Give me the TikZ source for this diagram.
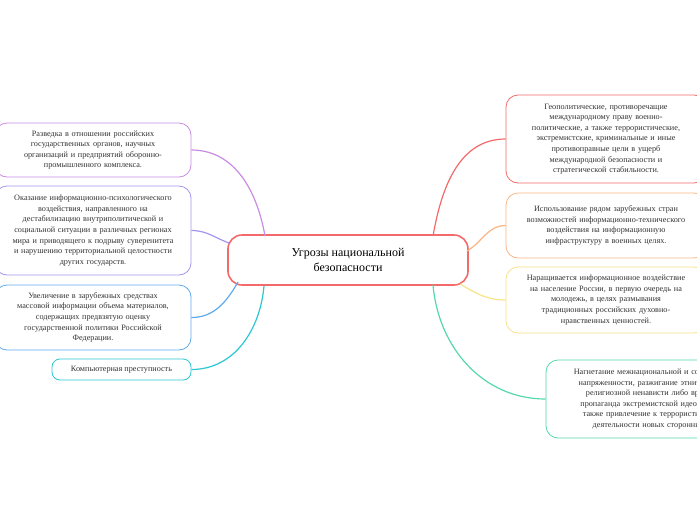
\documentclass[tikz,border=0pt]{standalone}
\usepackage{fontspec}
\setmainfont{Liberation Serif}
\begin{document}
\begin{tikzpicture}[x=1pt,y=-1pt,
  box/.style={draw, line width=0.8pt, rounded corners=12pt, align=center, inner sep=2pt, font=\fontsize{8.2}{10.6}\selectfont, text=black!80},
  link/.style={line width=1.2pt}]
\useasboundingbox (0,0) rectangle (697,520);
\clip (0,0) rectangle (697,520);
\definecolor{cpur}{HTML}{C98BE3}\definecolor{cvio}{HTML}{A394F2}\definecolor{cblu}{HTML}{5EAAEE}
\definecolor{ctea}{HTML}{2BC7D2}\definecolor{cred}{HTML}{F36A6A}\definecolor{cora}{HTML}{F9B585}
\definecolor{cyel}{HTML}{F7E487}\definecolor{cgrn}{HTML}{55D8AB}
\node[draw=cred, line width=1.6pt, rounded corners=14pt, minimum width=240pt, minimum height=50pt, align=center, font=\fontsize{12}{15}\selectfont] (c) at (348,260) {Угрозы национальной\\безопасности};
\node[box, draw=cpur, minimum width=196pt, minimum height=54pt, text width=192pt] (l1) at (93,150) {Разведка в отношении российских\\государственных органов, научных\\организаций и предприятий оборонно-\\промышленного комплекса.};
\node[box, draw=cvio, minimum width=196pt, minimum height=89pt, text width=192pt] (l2) at (93,230.5) {Оказание информационно-психологического\\воздействия, направленного на\\дестабилизацию внутриполитической и\\социальной ситуации в различных регионах\\мира и приводящего к подрыву суверенитета\\и нарушению территориальной целостности\\других государств.};
\node[box, draw=cblu, minimum width=196pt, minimum height=65pt, text width=192pt] (l3) at (93,317.5) {Увеличение в зарубежных средствах\\массовой информации объема материалов,\\содержащих предвзятую оценку\\государственной политики Российской\\Федерации.};
\node[box, draw=ctea, rounded corners=8pt, minimum width=139pt, minimum height=21pt] (l4) at (121.5,369.5) {Компьютерная преступность};
\node[box, draw=cred, minimum width=200pt, minimum height=88pt, text width=196pt] (r1) at (606,139) {Геополитические, противоречащие\\международному праву военно-\\политические, а также террористические,\\экстремистские, криминальные и иные\\противоправные цели в ущерб\\международной безопасности и\\стратегической стабильности.};
\node[box, draw=cora, minimum width=200pt, minimum height=65pt, text width=196pt] (r2) at (606,225.5) {Использование рядом зарубежных стран\\возможностей информационно-технического\\воздействия на информационную\\инфраструктуру в военных целях.};
\node[box, draw=cyel, minimum width=200pt, minimum height=66pt, text width=196pt] (r3) at (606,300) {Наращивается информационное воздействие\\на население России, в первую очередь на\\молодежь, в целях размывания\\традиционных российских духовно-\\нравственных ценностей.};
\node[box, draw=cgrn, minimum width=214pt, minimum height=78pt, text width=206pt] (r4) at (653,399) {Нагнетание межнациональной и социальной\\напряженности, разжигание этнической и\\религиозной ненависти либо вражды,\\пропаганда экстремистской идеологии, а\\также привлечение к террористической\\деятельности новых сторонников.};
\coordinate (cl1) at (265,236);\coordinate (cl2) at (229,243);\coordinate (cl3) at (238,282);\coordinate (cl4) at (264,286);
\coordinate (cr1) at (433,236);\coordinate (cr2) at (467,251);\coordinate (cr3) at (460,284);\coordinate (cr4) at (433,285);
\draw[link,cpur] (l1.east) to[out=0,in=100] (cl1);
\draw[link,cvio] (l2.east) to[out=0,in=160] (cl2);
\draw[link,cblu] (l3.east) to[out=0,in=240] (cl3);
\draw[link,ctea] (l4.east) to[out=0,in=265] (cl4);
\draw[link,cred] (r1.west) to[out=180,in=80] (cr1);
\draw[link,cora] (r2.west) to[out=180,in=30] (cr2);
\draw[link,cyel] (r3.west) to[out=180,in=-30] (cr3);
\draw[link,cgrn] (r4.west) to[out=180,in=275] (cr4);
\end{tikzpicture}
\end{document}
